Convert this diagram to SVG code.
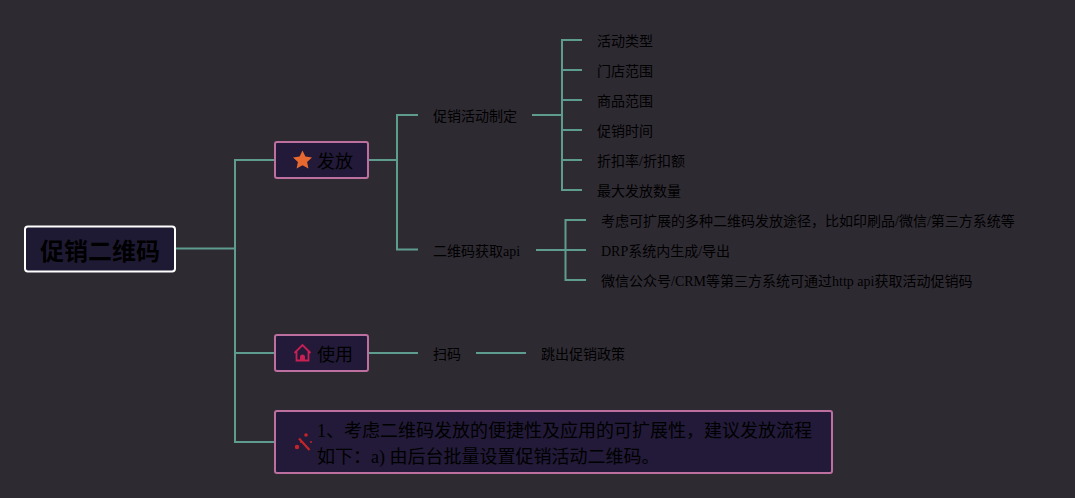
<svg xmlns="http://www.w3.org/2000/svg" width="1075" height="498" viewBox="0 0 1075 498">
<style>
text{font-family:"Liberation Serif","Noto Sans CJK SC",serif;fill:#000;font-size:14px}
.m{font-size:18px}
.r{font-size:24px;font-weight:bold}
.b{fill:#221a38;stroke:#bd6f9f;stroke-width:2}
.c{fill:none;stroke:#5f9c90;stroke-width:2}
</style>
<rect width="1075" height="498" fill="#2e2a32"/>
<g id="connectors" class="c">
<path d="M175 248.500H235M275 160H235V442H275M235 353H275"/>
<path d="M368 160H397M418 115H397V249.500H418"/>
<path d="M532 115H562M582 40H562V190H582M562 70H582M562 100H582M562 130H582M562 160H582"/>
<path d="M536 250H586M586 220H565.500V280H586"/>
<path d="M368 353H418M476 353H526"/>
</g>
<g id="root"><rect x="25" y="226.500" width="150" height="45" rx="3" fill="#1f1a33" stroke="#fff" stroke-width="2"/><text class="r" x="40" y="260">促销二维码</text></g>
<g id="fa"><rect class="b" x="275" y="142" width="93" height="36" rx="2"/><path d="M302.500 150.500l2.900 6.100 6.600.8-4.900 4.500 1.300 6.600-5.900-3.300-5.900 3.300 1.300-6.600-4.900-4.500 6.600-.8z" fill="#e8692f"/><text class="m" x="317" y="168">发放</text></g>
<g id="use"><rect class="b" x="275" y="335" width="93" height="36" rx="2"/><path d="M294.500 353l8-8 8 8M296.500 351v9.500h12V351" fill="none" stroke="#c81f55" stroke-width="1.800"/><path d="M300 360v-3a2.500 2.500 0 0 1 5 0v3z" fill="#c81f55"/><text class="m" x="317" y="361">使用</text></g>
<g id="note"><rect class="b" x="275" y="411" width="557" height="62" rx="2"/><path d="M299 438.500l10.500 11.500" stroke="#c4252b" stroke-width="2.200" fill="none"/><circle cx="297" cy="447" r="2.200" fill="#c4252b"/><circle cx="306" cy="435" r="1.800" fill="#c4252b"/><circle cx="311" cy="442" r="1" fill="#c4252b"/><circle cx="301" cy="442" r="1" fill="#c4252b"/><text class="m" x="317" y="437">1、考虑二维码发放的便捷性及应用的可扩展性，建议发放流程</text><text class="m" x="317" y="463">如下：a) 由后台批量设置促销活动二维码。</text></g>
<g id="n1"><text x="433" y="121">促销活动制定</text></g>
<g id="n2"><text x="433" y="256">二维码获取api</text></g>
<g id="n3"><text x="597" y="46">活动类型</text></g>
<g id="n4"><text x="597" y="76">门店范围</text></g>
<g id="n5"><text x="597" y="106">商品范围</text></g>
<g id="n6"><text x="597" y="136">促销时间</text></g>
<g id="n7"><text x="597" y="166">折扣率/折扣额</text></g>
<g id="n8"><text x="597" y="196">最大发放数量</text></g>
<g id="n9"><text x="601" y="226">考虑可扩展的多种二维码发放途径，比如印刷品/微信/第三方系统等</text></g>
<g id="n10"><text x="601" y="256">DRP系统内生成/导出</text></g>
<g id="n11"><text x="601" y="286">微信公众号/CRM等第三方系统可通过http api获取活动促销码</text></g>
<g id="n12"><text x="433" y="359">扫码</text></g>
<g id="n13"><text x="541" y="359">跳出促销政策</text></g>
</svg>
